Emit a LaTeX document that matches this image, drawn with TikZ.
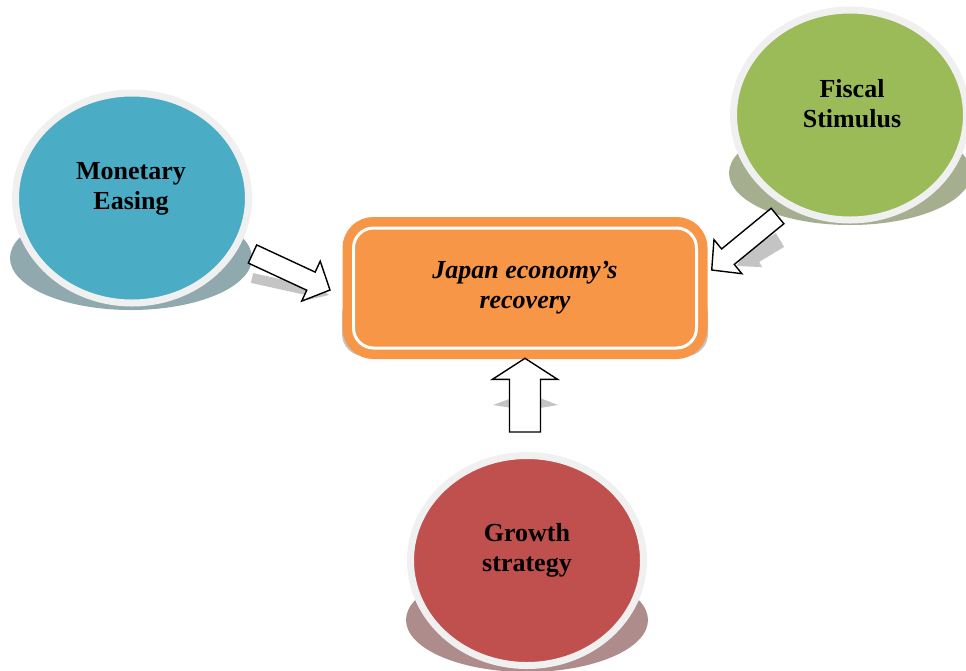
\documentclass[tikz,border=0pt]{standalone}
\usepackage{fontspec}
\setmainfont{Liberation Serif}
\usetikzlibrary{shapes.geometric,calc}
\definecolor{monblue}{HTML}{4BACC6}
\definecolor{fisgreen}{HTML}{9BBB59}
\definecolor{grored}{HTML}{C0504D}
\definecolor{boxorange}{HTML}{F79646}
\definecolor{ringgray}{HTML}{F0F0F0}
\definecolor{monshadow}{HTML}{8FA9AF}
\definecolor{fisshadow}{HTML}{A6AE90}
\definecolor{groshadow}{HTML}{AE8C8B}
\definecolor{arrowshade}{HTML}{C4C4C4}
\tikzset{
  bubble/.style={ellipse, draw=ringgray, line width=7pt, minimum width=233pt, minimum height=210pt, inner sep=0pt},
  bubbleshadow/.style={ellipse, minimum width=242pt, minimum height=104pt, inner sep=0pt},
  bubbletext/.style={font={\fontsize{26}{30}\selectfont\bfseries}, align=center},
  goalbox/.style={rectangle, rounded corners=20pt, draw=boxorange, fill=boxorange, line width=9.5pt,
    double=white, double distance=3pt, minimum width=343pt, minimum height=120pt, inner sep=0pt,
    font={\fontsize{26}{30}\selectfont\bfseries\itshape}, align=center},
  arrowbody/.style={draw=black, line width=1.4pt, fill=white, line join=miter},
  arrowshadow/.style={fill=arrowshade}
}
\newcommand\blockarrow[5][arrowbody]{%
  \path ($(#3)!21pt!(#2)$) coordinate (hb);
  \path [#1] ($(#2)!#4!90:(#3)$) -- ($(hb)!#4!90:(#3)$) -- ($(hb)!#5!90:(#3)$) -- (#3)
    -- ($(hb)!#5!-90:(#3)$) -- ($(hb)!#4!-90:(#3)$) -- ($(#2)!#4!-90:(#3)$) -- cycle;
}
\begin{document}
\begin{tikzpicture}[x=1pt,y=-1pt]
\useasboundingbox (0,0) rectangle (966,670);

\node [bubbleshadow, fill=monshadow] (monS) at (131,258) {};
\node [bubbleshadow, fill=fisshadow] (fisS) at (850,173) {};
\node [bubbleshadow, fill=groshadow] (groS) at (527,620) {};
\node [bubble, fill=monblue] (mon) at (132,198) {};
\node [bubble, fill=fisgreen] (fis) at (850,115) {};
\node [bubble, fill=grored] (gro) at (527,560.5) {};
\node [bubbletext] (monT) at (131,189) {Monetary\\Easing};
\node [bubbletext] (fisT) at (852,103.5) {Fiscal\\Stimulus};
\node [bubbletext] (groT) at (527,550.5) {Growth\\strategy};

\node [fill=arrowshade, rounded corners=22pt, minimum width=366pt, minimum height=64pt] (recS) at (525,324) {};
\node [goalbox] (rec) at (525,288) {Japan economy’s\\recovery};

\coordinate (monA) at (252.5,254);
\coordinate (monB) at (330,290);
\coordinate (fisA) at (777.5,216);
\coordinate (fisB) at (711.7,270);
\coordinate (groA) at (525,432);
\coordinate (groB) at (525,358.3);

\blockarrow[arrowshadow]{252,278}{329,295}{5pt}{10pt}
\blockarrow[arrowshadow]{780,240}{737,266}{8pt}{14pt}
\fill [arrowshadow] (493,405) -- (512,398) -- (540,398) -- (558,405) -- (540,408) -- (512,408) -- cycle;
\blockarrow{monA}{monB}{10pt}{22pt}
\blockarrow{fisA}{fisB}{10pt}{22pt}
\blockarrow{groA}{groB}{15.5pt}{32.5pt}
\end{tikzpicture}
\end{document}
